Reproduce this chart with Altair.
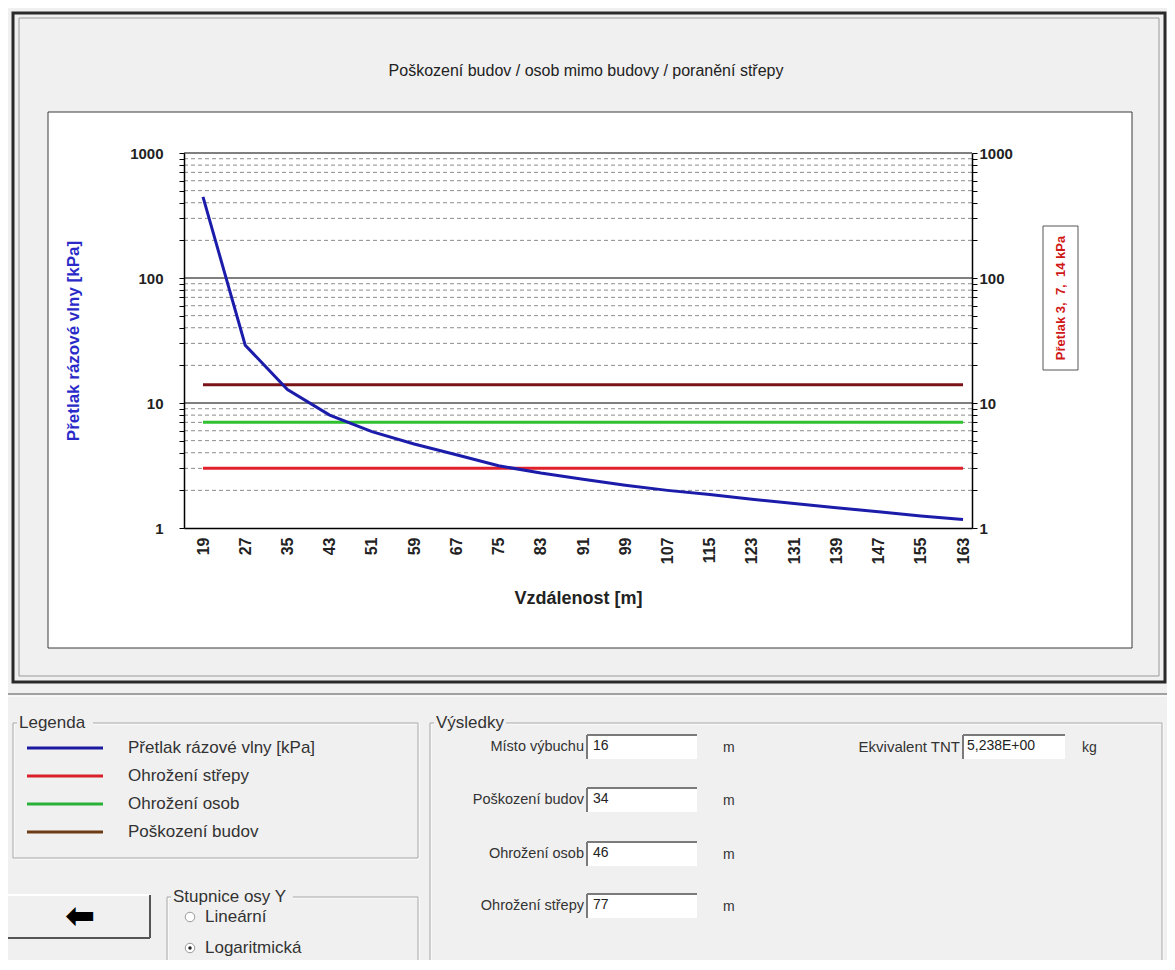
import altair as alt
import pandas as pd

# ---------------- data ----------------
distance = [19, 27, 35, 43, 51, 59, 67, 75, 83, 91, 99, 107, 115, 123, 131, 139, 147, 155, 163]
overpressure = [445, 29, 12.8, 8.0, 5.9, 4.7, 3.85, 3.15, 2.75, 2.45, 2.2, 2.0, 1.85,
                1.7, 1.57, 1.45, 1.35, 1.25, 1.17]

threshold_names = ["Ohrožení střepy", "Ohrožení osob", "Poškození budov"]
threshold_values = [3, 7, 14]
threshold_colors = ["#e0202a", "#30c030", "#7a1418"]

major_grid = [10, 100, 1000]
minor_grid = [2, 3, 4, 5, 6, 7, 8, 9, 20, 30, 40, 50, 60, 70, 80, 90,
              200, 300, 400, 500, 600, 700, 800, 900]
y_ticks = [1, 2, 3, 4, 5, 6, 7, 8, 9, 10, 20, 30, 40, 50, 60, 70, 80, 90,
           100, 200, 300, 400, 500, 600, 700, 800, 900, 1000]

legend_names = ["Přetlak rázové vlny [kPa]", "Ohrožení střepy", "Ohrožení osob", "Poškození budov"]
legend_colors = ["#1a1aa0", "#d8202c", "#28b038", "#6e3c14"]

result_labels = ["Místo výbuchu", "Poškození budov", "Ohrožení osob", "Ohrožení střepy"]
result_values = ["16", "34", "46", "77"]
tnt_label = "Ekvivalent TNT"
tnt_value = "5,238E+00"

chart_title = "Poškození budov / osob mimo budovy / poranění střepy"
x_title = "Vzdálenost [m]"
y_title = "Přetlak rázové vlny [kPa]"
right_box_text = "Přetlak 3,\u00a0\u00a07,\u00a0\u00a014 kPa"

# ---------------- layout helpers (page pixel coordinates) ----------------
OX, OY = 184, 153      # plot origin on the page
W, H = 788, 375        # plot area
FONT = "Liberation Sans"
ONE = alt.Data(values=[{"a": 0}])


def px(x):
    return x - OX


def py(y):
    return y - OY


def rect(x1, y1, x2, y2, fill=None, stroke=None, sw=1):
    kw = {}
    if fill is not None:
        kw["fill"] = fill
    else:
        kw["fillOpacity"] = 0
    if stroke is not None:
        kw["stroke"] = stroke
        kw["strokeWidth"] = sw
    return alt.Chart(ONE).mark_rect(**kw).encode(
        x=alt.value(px(x1)), x2=alt.value(px(x2)),
        y=alt.value(py(y1)), y2=alt.value(py(y2)))


def hline(x1, x2, y, color, sw=1):
    return alt.Chart(ONE).mark_rule(color=color, strokeWidth=sw).encode(
        x=alt.value(px(x1)), x2=alt.value(px(x2)), y=alt.value(py(y)))


def vline(x, y1, y2, color, sw=1):
    return alt.Chart(ONE).mark_rule(color=color, strokeWidth=sw).encode(
        x=alt.value(px(x)), y=alt.value(py(y1)), y2=alt.value(py(y2)))


def text(x, y, s, size=13, align="left", color="#222", bold=False, angle=0, font=FONT):
    kw = dict(text=s, fontSize=size, align=align, baseline="middle", color=color, font=font)
    if bold:
        kw["fontWeight"] = "bold"
    if angle:
        kw["angle"] = angle
    return alt.Chart(ONE).mark_text(**kw).encode(x=alt.value(px(x)), y=alt.value(py(y)))


def group_box(x1, y1, x2, y2, caption, cap_w, size=17):
    return [
        rect(x1 + 1, y1 + 1, x2 + 1, y2 + 1, stroke="#ffffff"),
        rect(x1, y1, x2, y2, stroke="#a8a8a8"),
        rect(x1 + 4, y1 - 10, x1 + 8 + cap_w, y1 + 10, fill="#f0f0f0"),
        text(x1 + 6, y1, caption, size=size, color="#333"),
    ]


# ---------------- scales ----------------
x_scale = alt.Scale(domain=[15.4, 164.7], nice=False, zero=False)
y_scale = alt.Scale(type="log", domain=[1, 1000], nice=False)

label_expr = ("datum.value == 1 || datum.value == 10 || datum.value == 100 || "
              "datum.value == 1000 ? datum.label : ''")

x_axis = alt.Axis(values=distance, labelAngle=270, labelAlign="right", labelBaseline="middle",
                  labelFont=FONT, labelFontSize=16, labelFontWeight="bold", labelColor="#222",
                  labelPadding=9, ticks=False, domainColor="#000", domainWidth=1.5, grid=False,
                  labelOverlap=False, labelFlush=False, zindex=2, format="d",
                  title=x_title, titleFont=FONT, titleFontSize=18, titleFontWeight="bold",
                  titleColor="#222", titleY=70, titleBaseline="middle")

y_left_axis = alt.Axis(values=y_ticks, format="d", labelExpr=label_expr, labelFont=FONT,
                       labelFontSize=15, labelFontWeight="bold", labelColor="#222",
                       labelPadding=16, tickSize=5, tickColor="#000", domainColor="#000",
                       domainWidth=1.5, grid=False, labelOverlap=False, labelFlush=False,
                       zindex=2,
                       title=y_title, titleFont=FONT, titleFontSize=17, titleFontWeight="bold",
                       titleColor="#2a2ac8", titleAngle=270, titleX=-111, titleY=H / 2,
                       titleAlign="center", titleBaseline="middle")

y_right_axis = alt.Axis(orient="right", values=y_ticks, format="d", labelExpr=label_expr,
                        labelFont=FONT, labelFontSize=15, labelFontWeight="bold",
                        labelColor="#222", labelPadding=2, tickSize=5, tickColor="#000",
                        domainColor="#000", domainWidth=1.5, grid=False, labelOverlap=False,
                        labelFlush=False, zindex=2, title=None)

# ---------------- data tables ----------------
df_curve = pd.DataFrame({"d": distance, "p": overpressure})
df_thr = pd.DataFrame({"name": threshold_names, "v": threshold_values,
                       "x0": min(distance), "x1": max(distance)})
df_minor = pd.DataFrame({"v": minor_grid})
df_major = pd.DataFrame({"v": major_grid})

# ---------------- layers ----------------
layers = []

# window frame
layers += [
    rect(13, 13, 1165, 682, stroke="#2a2a2a", sw=3),
    rect(19, 18, 1159, 676, stroke="#9a9a9a", sw=1),
    rect(48, 112, 1132, 648, fill="#ffffff", stroke="#3a3a3a", sw=1),
    hline(0, 1167, 694, "#a0a0a0", 2),
    hline(0, 1167, 696, "#ffffff", 1),
]

# grid
layers.append(
    alt.Chart(df_minor).mark_rule(color="#8c8c8c", strokeWidth=1, strokeDash=[4, 3]).encode(
        y=alt.Y("v:Q", scale=y_scale, axis=None)))
layers.append(
    alt.Chart(df_major).mark_rule(color="#000000", strokeWidth=1).encode(
        y=alt.Y("v:Q", scale=y_scale, axis=None)))

# threshold lines (carry the right axis)
layers.append(
    alt.Chart(df_thr).mark_rule(strokeWidth=3).encode(
        x=alt.X("x0:Q", scale=x_scale, axis=x_axis),
        x2="x1:Q",
        y=alt.Y("v:Q", scale=y_scale, axis=y_right_axis),
        color=alt.Color("name:N", scale=alt.Scale(domain=threshold_names, range=threshold_colors),
                        legend=None)))

# overpressure curve (carries the left and bottom axes)
layers.append(
    alt.Chart(df_curve).mark_line(color="#1c1cab", strokeWidth=3).encode(
        x=alt.X("d:Q", scale=x_scale, axis=x_axis),
        y=alt.Y("p:Q", scale=y_scale, axis=y_left_axis)))

# chart title and right-hand label box
layers += [
    text(586, 71, chart_title, size=16, align="center", color="#222"),
    rect(1043, 226, 1078, 370, fill="#ffffff", stroke="#555555", sw=1),
    text(1061, 298, right_box_text, size=13, align="center", color="#d01818", bold=True, angle=270),
]

# ---------------- bottom form ----------------
# Legenda
layers += group_box(13, 723, 418, 858, "Legenda", 72)
for i, (nm, col) in enumerate(zip(legend_names, legend_colors)):
    yy = 748 + 28 * i
    layers.append(hline(27, 103, yy, col, 3))
    layers.append(text(128, yy, nm, size=17, color="#333"))

# back button
layers += [
    rect(7, 895, 150, 938, fill="#f0f0f0"),
    hline(7, 150, 895, "#ffffff", 2),
    vline(7, 895, 938, "#ffffff", 2),
    hline(7, 150, 938, "#555555", 2),
    vline(150, 895, 938, "#555555", 2),
    text(80, 917, "⬅", size=36, align="center", color="#000", bold=True, font="DejaVu Sans"),
]

# Stupnice osy Y
layers += group_box(167, 897, 418, 985, "Stupnice osy Y", 118)
layers += [
    alt.Chart(ONE).mark_point(shape="circle", size=90, filled=True, color="#ffffff",
                              stroke="#9a9a9a", strokeWidth=1, opacity=1).encode(
        x=alt.value(px(190)), y=alt.value(py(917))),
    text(205, 917, "Lineární", size=17, color="#333"),
    alt.Chart(ONE).mark_point(shape="circle", size=90, filled=True, color="#ffffff",
                              stroke="#9a9a9a", strokeWidth=1, opacity=1).encode(
        x=alt.value(px(190)), y=alt.value(py(948))),
    alt.Chart(ONE).mark_point(shape="circle", size=12, filled=True, color="#222222",
                              opacity=1).encode(
        x=alt.value(px(190)), y=alt.value(py(948))),
    text(205, 948, "Logaritmická", size=17, color="#333"),
]

# Výsledky
layers += group_box(430, 723, 1162, 985, "Výsledky", 68)
row_y = [747, 800, 854, 906]
for lab, val, yy in zip(result_labels, result_values, row_y):
    layers += [
        text(584, yy, lab, size=14.5, align="right", color="#333"),
        rect(587, yy - 12, 697, yy + 12, fill="#ffffff"),
        hline(587, 697, yy - 12, "#7a7a7a", 2),
        vline(587, yy - 12, yy + 12, "#7a7a7a", 2),
        text(593, yy - 1, val, size=14, color="#222"),
        text(723, yy + 1, "m", size=14, color="#333"),
    ]
layers += [
    text(960, 747, tnt_label, size=15, align="right", color="#333"),
    rect(963, 735, 1065, 759, fill="#ffffff"),
    hline(963, 1065, 735, "#7a7a7a", 2),
    vline(963, 735, 759, "#7a7a7a", 2),
    text(967, 746, tnt_value, size=14, color="#222"),
    text(1082, 748, "kg", size=14, color="#333"),
]

chart = alt.layer(*layers).resolve_scale(y="independent").properties(
    width=W, height=H,
    autosize=alt.AutoSizeParams(type="none"),
    padding={"left": OX - 8, "top": OY - 8, "right": 1159 - (OX - 8) - W,
             "bottom": 952 - (OY - 8) - H},
    background="#f0f0f0",
).configure_view(strokeWidth=0)

chart.save("out.html", embed_options={"renderer": "svg", "actions": False})
